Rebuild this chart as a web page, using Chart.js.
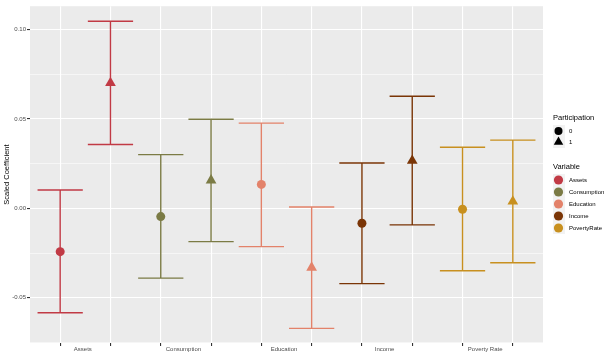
<!DOCTYPE html>
<html><head><meta charset="utf-8">
<script src="https://cdn.jsdelivr.net/npm/chart.js@4"></script>
<style>html,body{margin:0;padding:0;background:#fff}</style>
</head><body>
<canvas id="c" width="608" height="355" style="width:608px;height:355px;display:block"></canvas>
<script>
// ---- data ----
const categories = ['Assets', 'Consumption', 'Education', 'Income', 'Poverty Rate'];
const variableNames = ['Assets', 'Consumption', 'Education', 'Income', 'PovertyRate'];
const participationLevels = ['0', '1'];
const colors = ['#C13A45', '#7B7B45', '#E3826A', '#7A3506', '#C8901F'];
// participation 0
const est0 = [-0.0242, -0.0046, 0.0134, -0.0083, -0.0005];
const lo0  = [-0.0584, -0.0390, -0.0214, -0.0421, -0.0349];
const hi0  = [ 0.0103,  0.0301,  0.0477,  0.0254,  0.0342];
// participation 1
const est1 = [ 0.0702,  0.0157, -0.0331,  0.0267,  0.0039];
const lo1  = [ 0.0357, -0.0186, -0.0671, -0.0092, -0.0304];
const hi1  = [ 0.1047,  0.0499,  0.0008,  0.0627,  0.0382];
const yMajorTicks = [-0.05, 0.00, 0.05, 0.10];
const yMinorTicks = [-0.075, -0.025, 0.025, 0.075];

const FONT = "'Liberation Sans', Arial, sans-serif";
const capHalf = 0.45;

function whisker(x, lo, hi) {
  return [
    {x: x - capHalf, y: hi}, {x: x + capHalf, y: hi}, {x: x, y: null},
    {x: x, y: hi}, {x: x, y: lo}, {x: x, y: null},
    {x: x - capHalf, y: lo}, {x: x + capHalf, y: lo}, {x: x, y: null}
  ];
}

const datasets = [];
variableNames.forEach((v, i) => {
  datasets.push({
    label: v,
    order: 0,
    data: [{x: 2 * i, y: est0[i]}, {x: 2 * i + 1, y: est1[i]}],
    backgroundColor: colors[i],
    borderWidth: 0,
    pointStyle: ['circle', 'triangle'],
    pointRadius: [4.5, 6.2],
    pointHoverRadius: [4.5, 6.2]
  });
});
variableNames.forEach((v, i) => {
  datasets.push({
    label: v + ' CI',
    order: 1,
    data: whisker(2 * i, lo0[i], hi0[i]).concat(whisker(2 * i + 1, lo1[i], hi1[i])),
    showLine: true,
    spanGaps: false,
    borderColor: colors[i],
    borderWidth: 1.4,
    pointRadius: 0,
    pointHoverRadius: 0,
    tension: 0
  });
});

const isInt = v => Math.abs(v - Math.round(v)) < 1e-9;
const isMajorY = v => yMajorTicks.some(t => Math.abs(t - v) < 1e-9);

const panelBg = {
  id: 'panelBg',
  beforeDraw(chart) {
    const {ctx, chartArea: a} = chart;
    ctx.save();
    ctx.fillStyle = '#EBEBEB';
    ctx.fillRect(a.left, a.top, a.right - a.left, a.bottom - a.top);
    ctx.restore();
  }
};

const legendPlugin = {
  id: 'customLegend',
  afterDraw(chart) {
    const ctx = chart.ctx;
    ctx.save();
    const x0 = 553, keyX = 558.5, textX = 569;
    ctx.textBaseline = 'middle';
    ctx.textAlign = 'left';
    ctx.fillStyle = '#000';
    ctx.font = '7.5px ' + FONT;
    ctx.fillText('Participation', x0, 118);
    // participation keys
    const py = [131, 142];
    ctx.fillStyle = '#F2F2F2';
    ctx.fillRect(x0, py[0] - 6, 12, 23);
    participationLevels.forEach((p, j) => {
      ctx.fillStyle = '#000';
      ctx.beginPath();
      if (j === 0) {
        ctx.arc(keyX, py[j], 4, 0, Math.PI * 2);
      } else {
        const r = 5.5;
        ctx.moveTo(keyX, py[j] - r);
        ctx.lineTo(keyX + r * 0.866, py[j] + r * 0.5);
        ctx.lineTo(keyX - r * 0.866, py[j] + r * 0.5);
        ctx.closePath();
      }
      ctx.fill();
      ctx.font = '6px ' + FONT;
      ctx.fillStyle = '#000';
      ctx.fillText(p, textX, py[j]);
    });
    ctx.font = '7.5px ' + FONT;
    ctx.fillText('Variable', x0, 167);
    ctx.fillStyle = '#F2F2F2';
    ctx.fillRect(x0, 174, 12, 60);
    variableNames.forEach((v, i) => {
      const y = 180 + 12 * i;
      ctx.fillStyle = colors[i];
      ctx.beginPath();
      ctx.arc(keyX, y, 4.6, 0, Math.PI * 2);
      ctx.fill();
      ctx.fillStyle = '#000';
      ctx.font = '6px ' + FONT;
      ctx.fillText(v, textX, y);
    });
    ctx.restore();
  }
};

new Chart(document.getElementById('c'), {
  type: 'scatter',
  data: {datasets},
  plugins: [panelBg, legendPlugin],
  options: {
    responsive: false,
    animation: false,
    devicePixelRatio: 1,
    layout: {padding: {top: 4, right: 65, left: 0, bottom: 0}},
    plugins: {legend: {display: false}, tooltip: {enabled: false}},
    scales: {
      x: {
        type: 'linear',
        min: -0.6,
        max: 9.6,
        afterFit: s => { s.height = 12; },
        afterBuildTicks: s => {
          const t = [];
          for (let k = 0; k < 10; k++) t.push({value: k});
          categories.forEach((c, i) => t.push({value: 2 * i + 0.45}));
          s.ticks = t;
        },
        border: {display: false},
        grid: {
          color: c => (c.tick && isInt(c.tick.value)) ? '#FFFFFF' : 'rgba(0,0,0,0)',
          tickColor: c => (c.tick && isInt(c.tick.value)) ? '#333333' : 'rgba(0,0,0,0)',
          lineWidth: 1.1,
          tickLength: 3
        },
        ticks: {
          autoSkip: false,
          maxRotation: 0,
          padding: 0,
          color: '#4D4D4D',
          font: {family: FONT, size: 6},
          callback: v => isInt(v) ? '' : categories[Math.round((v - 0.45) / 2)]
        }
      },
      y: {
        type: 'linear',
        min: -0.0753,
        max: 0.1131,
        afterFit: s => { s.width = 30; },
        afterBuildTicks: s => {
          s.ticks = yMajorTicks.concat(yMinorTicks).sort((a, b) => a - b).map(v => ({value: v}));
        },
        border: {display: false},
        grid: {
          color: '#FFFFFF',
          lineWidth: c => (c.tick && isMajorY(c.tick.value)) ? 1.1 : 0.55,
          tickColor: c => (c.tick && isMajorY(c.tick.value)) ? '#333333' : 'rgba(0,0,0,0)',
          tickLength: 3
        },
        ticks: {
          autoSkip: false,
          padding: 1,
          color: '#4D4D4D',
          font: {family: FONT, size: 6},
          callback: v => isMajorY(v) ? v.toFixed(2) : ''
        },
        title: {
          display: true,
          text: 'Scaled Coefficient',
          color: '#000',
          font: {family: FONT, size: 7.5},
          padding: {top: 2, bottom: 0}
        }
      }
    }
  }
});
</script>
</body></html>
